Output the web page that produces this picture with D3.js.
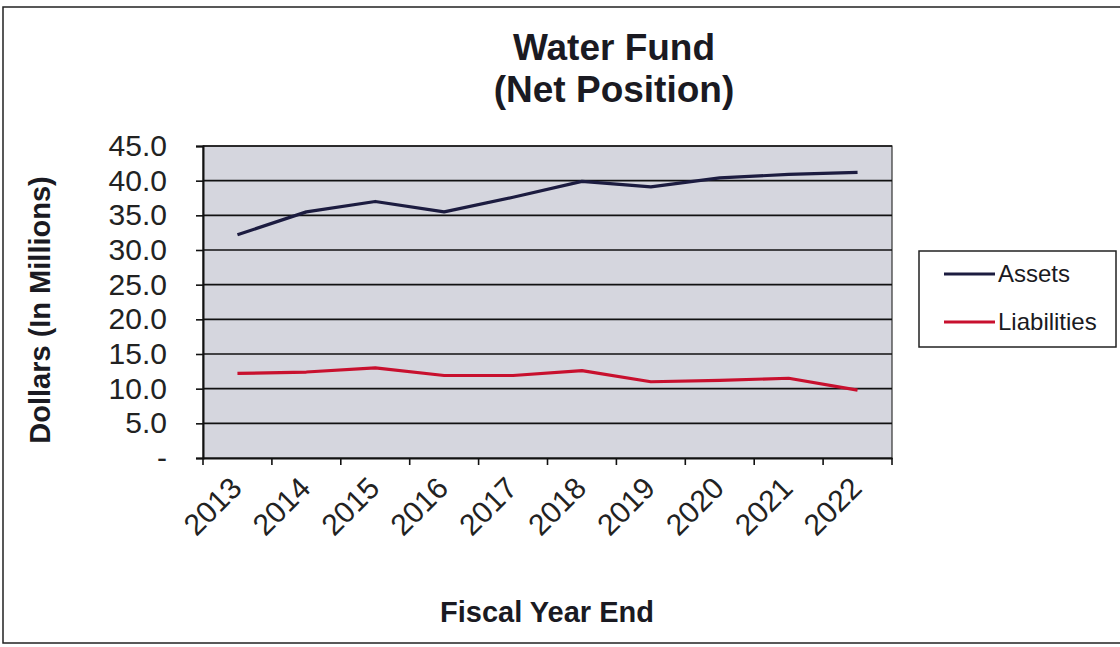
<!DOCTYPE html>
<html><head><meta charset="utf-8">
<script src="https://cdn.jsdelivr.net/npm/d3@7/dist/d3.min.js"></script>
<style>body{margin:0;background:#fff;}svg{display:block;font-family:"Liberation Sans",Arial,sans-serif;}</style>
</head><body>
<svg id="c" width="1120" height="647"></svg>
<script>
const years = ["2013","2014","2015","2016","2017","2018","2019","2020","2021","2022"];
const assets = [32.2, 35.5, 37.0, 35.5, 37.6, 39.9, 39.1, 40.4, 40.9, 41.2];
const liabilities = [12.2, 12.4, 13.0, 11.9, 11.9, 12.6, 11.0, 11.2, 11.5, 9.8];
const yTicks = [0,5,10,15,20,25,30,35,40,45];
const seriesNames = ["Assets","Liabilities"];
const colors = ["#1c1c40","#c8102e"];

const svg = d3.select("#c");
const m = {l:203, r:892, t:146, b:458};

// outer frame
svg.append("rect").attr("x",3).attr("y",7).attr("width",1130).attr("height",636)
  .attr("fill","#fff").attr("stroke","#222").attr("stroke-width",1.5);

const x = d3.scaleBand().domain(years).range([m.l,m.r]);
const y = d3.scaleLinear().domain([0,45]).range([m.b,m.t]);

svg.append("rect").attr("x",m.l).attr("y",m.t).attr("width",m.r-m.l).attr("height",m.b-m.t)
  .attr("fill","#d5d6de").attr("stroke","#333").attr("stroke-width",1.2);

// grid
svg.append("g").selectAll("line").data(yTicks.filter(d=>d>0)).join("line")
  .attr("x1",m.l).attr("x2",m.r).attr("y1",d=>y(d)).attr("y2",d=>y(d))
  .attr("stroke","#111").attr("stroke-width",1.6);

// y axis
const yAxis = d3.axisLeft(y).tickValues(yTicks).tickSize(7).tickPadding(30)
  .tickFormat(d=> d===0 ? "-" : d3.format(".1f")(d));
const gy = svg.append("g").attr("transform",`translate(${m.l},0)`).call(yAxis);
gy.select(".domain").attr("stroke","#111").attr("stroke-width",2);
gy.selectAll(".tick line").attr("stroke","#111").attr("stroke-width",1.6);
gy.selectAll(".tick text").attr("font-size",30).attr("fill","#222").attr("x",-36);

// x axis
const xAxis = d3.axisBottom(x).tickSize(0).tickFormat(d=>d);
const gx = svg.append("g").attr("transform",`translate(0,${m.b})`).call(xAxis);
gx.select(".domain").attr("stroke","#111").attr("stroke-width",2);
gx.selectAll(".tick text").attr("font-size",30).attr("fill","#222")
  .attr("text-anchor","end").attr("dy",0).attr("y",0)
  .attr("transform","translate(6,32) rotate(-45)");
// boundary ticks
svg.append("g").selectAll("line").data(years.concat(["end"])).join("line")
  .attr("x1",(d,i)=>m.l+i*x.step()).attr("x2",(d,i)=>m.l+i*x.step())
  .attr("y1",m.b).attr("y2",m.b+7).attr("stroke","#111").attr("stroke-width",1.6);

// lines
const line = d3.line().x((d,i)=>x(years[i])+x.bandwidth()/2).y(d=>y(d));
[assets, liabilities].forEach((s,k)=>{
  svg.append("path").datum(s).attr("d",line).attr("fill","none")
    .attr("stroke",colors[k]).attr("stroke-width",3.2).attr("stroke-linejoin","round");
});

// titles
svg.append("text").attr("x",614).attr("y",60).attr("text-anchor","middle")
  .attr("font-size",37).attr("font-weight","bold").attr("fill","#1a1a22").text("Water Fund");
svg.append("text").attr("x",614).attr("y",102).attr("text-anchor","middle")
  .attr("font-size",37).attr("font-weight","bold").attr("fill","#1a1a22").text("(Net Position)");
svg.append("text").attr("x",547).attr("y",622).attr("text-anchor","middle")
  .attr("font-size",29).attr("font-weight","bold").attr("fill","#1a1a22").text("Fiscal Year End");
svg.append("text").attr("transform","translate(50,310) rotate(-90)").attr("text-anchor","middle")
  .attr("font-size",29).attr("font-weight","bold").attr("fill","#1a1a22").text("Dollars (In Millions)");

// legend
const lg = svg.append("g");
lg.append("rect").attr("x",919).attr("y",251).attr("width",197).attr("height",96)
  .attr("fill","#fff").attr("stroke","#222").attr("stroke-width",1.5);
seriesNames.forEach((n,k)=>{
  const yy = 274 + k*48;
  lg.append("line").attr("x1",944).attr("x2",995).attr("y1",yy).attr("y2",yy)
    .attr("stroke",colors[k]).attr("stroke-width",3);
  lg.append("text").attr("x",998).attr("y",yy+8).attr("font-size",24).attr("fill","#1a1a22").text(n);
});
</script>
</body></html>
